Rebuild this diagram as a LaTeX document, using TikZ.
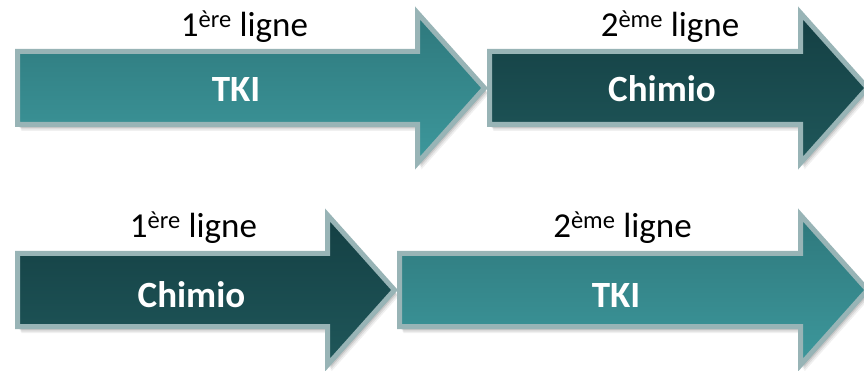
\documentclass[tikz,border=0pt]{standalone}
\usepackage{fontspec}
\setmainfont{Carlito}
\definecolor{lighttop}{HTML}{2E787C}
\definecolor{lightbot}{HTML}{3D989C}
\definecolor{darktop}{HTML}{143F43}
\definecolor{darkbot}{HTML}{1F575A}
\definecolor{rim}{HTML}{98B4B6}
\newcommand\arrowpath[4]{(#1,{#4-36.5}) -- (#2,{#4-36.5}) -- (#2,{#4-75}) -- (#3,#4) -- (#2,{#4+75}) -- (#2,{#4+36.5}) -- (#1,{#4+36.5}) -- cycle}
\newcommand\bigarrow[5]{%
  \foreach \s/\o in {2/0.10,3.5/0.10,5/0.08,6.5/0.06}{%
    \fill[black,opacity=\o,shift={(\s*0.6,\s)}] \arrowpath{#1}{#2}{#3}{#4};}
  \path[#5] \arrowpath{#1}{#2}{#3}{#4};
}
\tikzset{
  lightarrow/.style={top color=lighttop,bottom color=lightbot,draw=rim,line width=5pt,line join=miter},
  darkarrow/.style={top color=darktop,bottom color=darkbot,draw=rim,line width=5pt,line join=miter},
  lbl/.style={font=\fontsize{35}{35}\selectfont,text=black,inner sep=0pt,anchor=base},
  inlbl/.style={font=\fontsize{37}{37}\selectfont\bfseries,text=white,inner sep=0pt,anchor=base},
}
\begin{document}
\begin{tikzpicture}[x=1pt,y=-1pt]
\useasboundingbox (0,0) rectangle (864,371);
\clip (0,0) rectangle (864,371);
\fill[white] (0,0) rectangle (864,371);
\bigarrow{17.5}{417.5}{484.5}{88}{lightarrow}
\bigarrow{489.5}{800.5}{867.5}{88}{darkarrow}
\bigarrow{17.5}{327.5}{394.5}{290}{darkarrow}
\bigarrow{399.5}{800.5}{867.5}{290}{lightarrow}
\node[lbl] (l1) at (244.5,37) {1\textsuperscript{ère} ligne};
\node[lbl] (l2) at (670,37) {2\textsuperscript{ème} ligne};
\node[inlbl] (t1) at (236,102) {TKI};
\node[inlbl] (t2) at (662,102) {Chimio};
\node[lbl] (l3) at (193.5,238) {1\textsuperscript{ère} ligne};
\node[lbl] (l4) at (622.5,238) {2\textsuperscript{ème} ligne};
\node[inlbl] (t3) at (191.5,307) {Chimio};
\node[inlbl] (t4) at (616,307) {TKI};
\end{tikzpicture}
\end{document}
